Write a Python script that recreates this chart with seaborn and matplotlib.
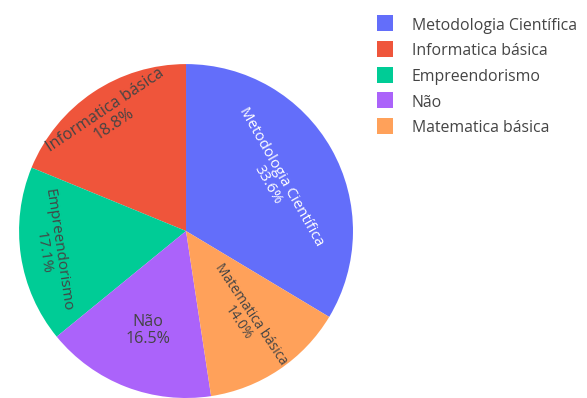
import numpy as np
import matplotlib
matplotlib.use("Agg")
import matplotlib.pyplot as plt
from matplotlib.lines import Line2D
import seaborn as sns

# Course share data
categories = ["Metodologia Científica", "Informatica básica", "Empreendorismo",
              "Não", "Matematica básica"]
percentages = [33.6, 18.8, 17.1, 16.5, 14.0]
palette = ["#636EFA", "#EF553B", "#00CC96", "#AB63FA", "#FFA15A"]
text_colors = ["white", "#444444", "#444444", "#444444", "#444444"]

# How each inside label is oriented, how far out it sits (fraction of radius)
# and the size it is shrunk to so that it fits in its slice
label_modes = ["tangential", "tangential", "tangential", "horizontal", "radial"]
label_radius = [0.61, 0.82, 0.82, 0.64, 0.63]
label_sizes = [10.9, 11.6, 11.0, 11.6, 9.8]

sns.set_theme(style="white")
plt.rcParams["font.family"] = ["Open Sans", "DejaVu Sans"]

fig = plt.figure(figsize=(5.87, 3.98), dpi=100)
ax = fig.add_axes([0.0324, 0.0, 0.569, 0.839])

total = sum(percentages)
wedges, _ = ax.pie(
    percentages,
    colors=palette,
    startangle=90 - 360 * percentages[0] / total,
    counterclock=True,
    radius=1.0,
    wedgeprops=dict(linewidth=0),
)
ax.set_xlim(-1, 1)
ax.set_ylim(-1, 1)
ax.set_aspect("equal")
ax.axis("off")


def norm_rot(a):
    a = (a + 180) % 360 - 180
    if a > 90:
        a -= 180
    elif a <= -90:
        a += 180
    return a


for w, name, pct, mode, rfrac, size, col in zip(
        wedges, categories, percentages, label_modes, label_radius,
        label_sizes, text_colors):
    mid = (w.theta1 + w.theta2) / 2.0
    rad = np.deg2rad(mid)
    x, y = rfrac * np.cos(rad), rfrac * np.sin(rad)
    if mode == "tangential":
        rot = norm_rot(mid - 90)
    elif mode == "radial":
        rot = norm_rot(mid)
    else:
        rot = 0
    ax.text(x, y, f"{name}\n{pct:.1f}%", ha="center", va="center",
            rotation=rot, rotation_mode="anchor", color=col,
            fontsize=size, multialignment="center", linespacing=1.05,
            clip_on=False)

handles = [Line2D([], [], linestyle="none", marker="s", markersize=11.5,
                  markerfacecolor=c, markeredgewidth=0) for c in palette]
leg = fig.legend(handles, categories, loc="upper left",
                 bbox_to_anchor=(0.642, 0.957), frameon=False,
                 fontsize=11.4, handlelength=1.0, handleheight=1.0,
                 handletextpad=1.2, labelspacing=0.58, borderaxespad=0,
                 borderpad=0)
for t in leg.get_texts():
    t.set_color("#444444")

fig.savefig("out.png", dpi=100)
